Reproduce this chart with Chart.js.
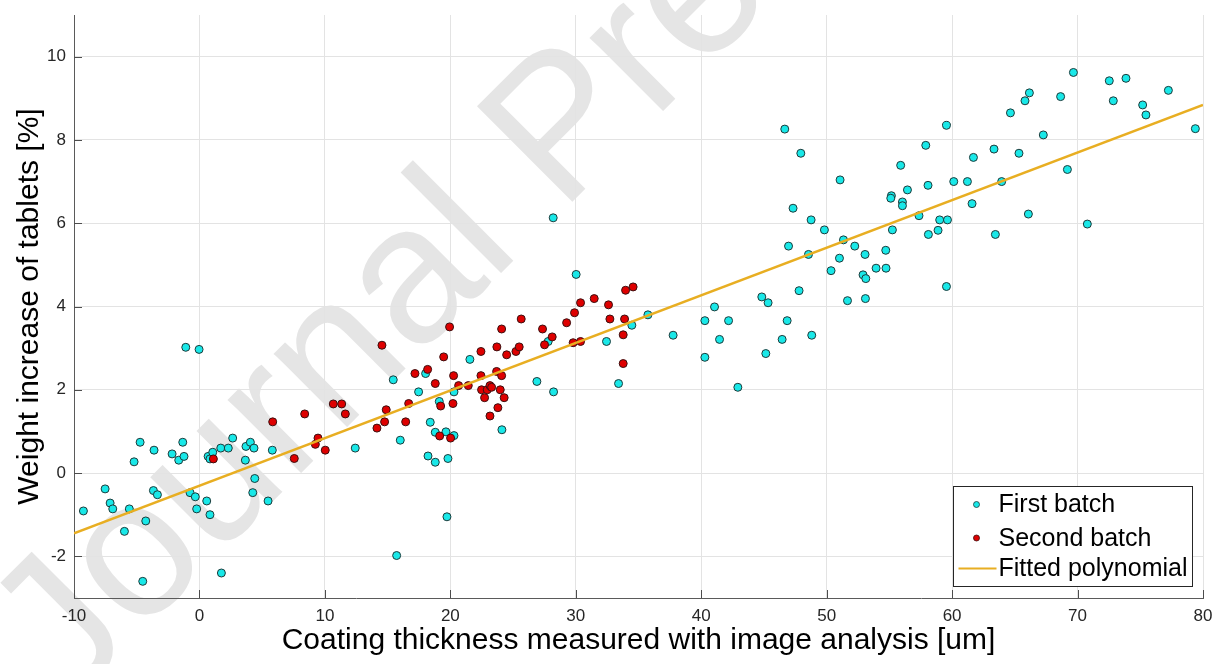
<!DOCTYPE html>
<html>
<head>
<meta charset="utf-8">
<script src="https://cdn.jsdelivr.net/npm/chart.js@4"></script>
<style>
  html, body { margin: 0; padding: 0; background: #fff; }
  #wrap { width: 1214px; height: 664px; position: relative; }
</style>
</head>
<body>
<div id="wrap"><canvas id="coatingChart"></canvas></div>
<script>
// First batch (cyan)
const firstX = [-9.25,-7.52,-7.12,-6.91,-5.98,-5.59,-5.21,-4.73,-4.52,-4.28,-3.62,-3.67,-3.35,-2.18,-1.65,-1.33,-1.23,-0.75,-0.33,-0.22,
    0.58,0.84,0.69,0.84,1.06,1.75,1.70,2.30,2.65,3.66,3.71,4.06,4.35,4.41,4.25,5.47,5.81,12.42,-1.09,-0.03,
    28.20,30.03,15.45,16.01,17.47,18.03,18.22,18.40,18.80,18.80,19.12,19.65,19.81,20.29,20.29,19.73,15.72,21.56,24.11,26.90,
    27.80,28.23,32.45,33.41,34.47,35.75,37.76,40.29,41.06,42.18,41.46,40.29,42.92,44.83,45.33,45.15,46.45,46.85,48.81,47.80,
    46.66,47.94,51.07,47.32,48.76,49.82,46.96,48.55,51.34,52.24,53.06,54.71,51.02,50.35,52.90,53.12,53.94,54.73,51.66,53.09,
    55.90,56.44,55.16,55.11,56.04,56.04,55.24,57.36,69.67,72.53,73.86,77.24,72.85,75.19,75.45,79.39,68.65,66.16,65.81,64.65,
    67.27,59.55,57.90,58.08,58.11,58.88,59.01,59.63,59.55,60.13,61.22,61.70,61.59,63.34,63.95,63.45,65.33,66.08,69.19,70.78];
const firstY = [-0.91,-0.38,-0.72,-0.86,-1.40,-0.86,0.27,0.74,-2.60,-1.15,0.55,-0.42,-0.52,0.46,0.31,0.74,0.40,-0.47,-0.57,-0.86,
    -0.67,-1.00,0.40,0.34,0.50,-2.40,0.60,0.60,0.84,0.31,0.64,0.74,0.60,-0.13,-0.47,-0.67,0.55,0.60,3.02,2.97,
    6.13,4.77,2.24,0.79,1.95,2.39,0.41,1.22,0.98,0.26,1.72,0.99,0.35,0.90,1.95,-1.05,-1.98,2.73,1.04,2.20,
    3.16,1.95,3.16,2.15,3.55,3.80,3.31,3.66,3.99,3.66,3.21,2.78,2.06,4.23,4.09,2.87,3.21,3.66,3.31,4.38,
    8.26,7.68,7.04,6.36,6.08,5.84,5.45,5.25,5.60,5.45,5.25,5.35,5.16,4.86,4.76,4.67,4.92,4.92,4.14,4.19,
    7.39,6.80,6.66,6.60,6.51,6.42,5.84,6.18,9.62,9.42,9.48,9.19,8.94,8.84,8.60,8.27,9.04,9.13,8.94,8.65,
    8.12,8.35,7.87,6.91,5.73,5.83,6.08,6.08,4.48,7.00,7.00,7.58,6.47,7.78,7.00,5.73,7.68,6.22,7.29,5.98];

// Second batch (red)
const secondX = [1.11,5.84,7.56,8.39,9.24,9.45,10.03,10.67,11.34,11.63,14.15,14.55,14.76,14.89,16.44,16.68,17.18,18.19,18.80,19.23,
    19.15,19.47,19.94,20.02,20.21,20.26,20.66,21.43,22.44,22.44,22.49,22.73,22.94,23.16,23.16,23.29,23.69,23.71,23.98,24.09,
    24.09,24.29,23.79,24.49,25.23,25.49,25.65,27.35,27.51,28.12,29.27,29.90,29.79,30.38,30.38,31.47,32.61,32.72,33.78,33.78,
    33.89,33.97,34.57];
const secondY = [0.34,1.23,0.35,1.42,0.69,0.84,0.55,1.66,1.66,1.42,1.08,3.07,1.23,1.52,1.23,1.67,2.39,2.49,2.15,1.61,
    0.89,2.79,3.51,0.84,1.67,2.34,2.10,2.10,2.92,2.34,2.00,1.81,2.00,2.10,1.37,2.06,2.44,3.03,2.00,2.34,
    3.46,1.81,1.57,2.84,2.92,3.03,3.70,3.46,3.08,3.27,3.61,3.85,3.13,3.16,4.09,4.19,4.04,3.70,3.32,2.63,
    3.70,4.39,4.47];

// Fitted polynomial, end points
const fitX = [-10, 80];
const fitY = [-1.45, 8.84];

const xTicks = [-10, 0, 10, 20, 30, 40, 50, 60, 70, 80];
const yTicks = [-2, 0, 2, 4, 6, 8, 10];

const FONT = "'Liberation Sans', Arial, Helvetica, sans-serif";
const TXT = '#262626';

const toPoints = (xs, ys) => xs.map((x, i) => ({ x: x, y: ys[i] }));

// grey diagonal watermark behind everything
const watermark = {
    id: 'watermark',
    beforeDraw(chart) {
        const ctx = chart.ctx;
        ctx.save();
        ctx.fillStyle = '#e5e5e5';
        ctx.font = '196px ' + FONT;
        ctx.translate(68, 706);
        ctx.rotate(-45 * Math.PI / 180);
        ctx.fillText('Journal Pre-proof', 0, 0);
        ctx.restore();
    }
};

// matlab style ticks pointing into the axes
const innerTicks = {
    id: 'innerTicks',
    beforeDatasetsDraw(chart) {
        const { ctx, chartArea: a, scales: { x, y } } = chart;
        ctx.save();
        ctx.strokeStyle = '#4d4d4d';
        ctx.lineWidth = 1;
        ctx.beginPath();
        xTicks.forEach(v => {
            const px = Math.round(x.getPixelForValue(v)) + 0.5;
            ctx.moveTo(px, a.bottom);
            ctx.lineTo(px, a.bottom - 8);
        });
        yTicks.forEach(v => {
            const py = Math.round(y.getPixelForValue(v)) + 0.5;
            ctx.moveTo(a.left, py);
            ctx.lineTo(a.left + 8, py);
        });
        ctx.stroke();
        ctx.restore();
    }
};

// legend box in lower right corner of the axes
const boxLegend = {
    id: 'boxLegend',
    afterDraw(chart) {
        const { ctx, chartArea: a } = chart;
        const left = Math.round(a.right) - 249.5, top = Math.round(a.bottom) - 111.5, w = 239, h = 100;
        const rows = [18, 51.5, 82];
        ctx.save();
        ctx.fillStyle = '#fff';
        ctx.fillRect(left, top, w, h);
        ctx.strokeStyle = '#262626';
        ctx.lineWidth = 1;
        ctx.strokeRect(left, top, w, h);
        ctx.font = '25px ' + FONT;
        ctx.textBaseline = 'middle';
        chart.data.datasets.forEach((ds, i) => {
            const cy = top + rows[i];
            if (ds.showLine) {
                ctx.strokeStyle = ds.borderColor;
                ctx.lineWidth = 2;
                ctx.beginPath();
                ctx.moveTo(left + 5, cy);
                ctx.lineTo(left + 43, cy);
                ctx.stroke();
            } else {
                ctx.beginPath();
                ctx.arc(left + 23, cy, 3, 0, Math.PI * 2);
                ctx.fillStyle = ds.backgroundColor;
                ctx.fill();
                ctx.strokeStyle = ds.borderColor;
                ctx.lineWidth = 0.8;
                ctx.stroke();
            }
            ctx.fillStyle = '#000';
            ctx.fillText(ds.label, left + 45, cy + 1);
        });
        ctx.restore();
    }
};

const ctx = document.getElementById('coatingChart').getContext('2d');
const coatingChart = new Chart(ctx, {
    type: 'scatter',
    data: {
        datasets: [{
            label: 'First batch',
            data: toPoints(firstX, firstY),
            backgroundColor: 'rgb(25,232,232)',
            borderColor: '#1d3a3a',
            borderWidth: 1,
            pointRadius: 4,
            order: 3
        }, {
            label: 'Second batch',
            data: toPoints(secondX, secondY),
            backgroundColor: 'rgb(222,0,0)',
            borderColor: '#3a1010',
            borderWidth: 1,
            pointRadius: 4,
            order: 2
        }, {
            label: 'Fitted polynomial',
            data: toPoints(fitX, fitY),
            showLine: true,
            borderColor: '#E8AE22',
            backgroundColor: '#E8AE22',
            borderWidth: 2.5,
            pointRadius: 0,
            order: 1
        }]
    },
    options: {
        responsive: true,
        maintainAspectRatio: false,
        animation: false,
        layout: { padding: { top: 15, right: 11, left: 0, bottom: 0 } },
        plugins: {
            legend: { display: false },
            tooltip: { enabled: false }
        },
        scales: {
            x: {
                type: 'linear',
                min: -10,
                max: 80,
                afterBuildTicks: s => { s.ticks = xTicks.map(v => ({ value: v })); },
                afterFit: s => {
                    s.height = 66;
                    s.paddingLeft = 0;
                    s.paddingRight = 0;
                },
                grid: { color: '#e3e3e3', drawTicks: false },
                border: { display: true, color: '#5a5a5a', width: 1 },
                ticks: { padding: 8, color: TXT, font: { family: FONT, size: 17 } },
                title: {
                    display: true,
                    text: 'Coating thickness measured with image analysis [um]',
                    color: '#000',
                    font: { family: FONT, size: 30 },
                    padding: { top: 0, bottom: 5 }
                }
            },
            y: {
                type: 'linear',
                min: -3,
                max: 11,
                afterBuildTicks: s => { s.ticks = yTicks.map(v => ({ value: v })); },
                afterFit: s => {
                    s.width = 74;
                    s.paddingTop = 0;
                    s.paddingBottom = 0;
                },
                grid: { color: '#e3e3e3', drawTicks: false },
                border: { display: true, color: '#5a5a5a', width: 1 },
                ticks: { padding: 8, color: TXT, font: { family: FONT, size: 17 } },
                title: {
                    display: true,
                    text: 'Weight increase of tablets [%]',
                    color: '#000',
                    font: { family: FONT, size: 30 },
                    padding: { top: 12, bottom: 0 }
                }
            }
        }
    },
    plugins: [watermark, innerTicks, boxLegend]
});
</script>
</body>
</html>
